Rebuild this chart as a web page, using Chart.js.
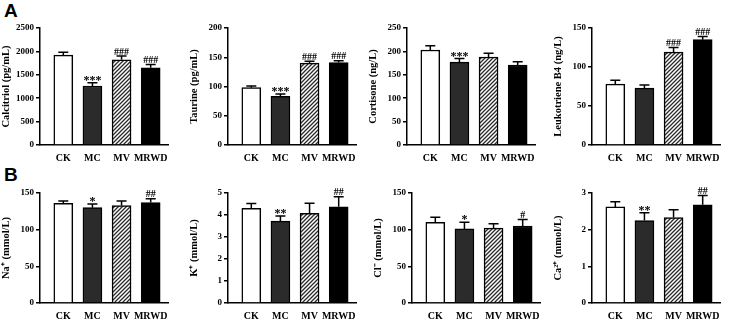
<!DOCTYPE html>
<html>
<head>
<meta charset="utf-8">
<script src="https://cdn.jsdelivr.net/npm/chart.js@4.4.1/dist/chart.umd.min.js"></script>
<style>
  body { margin: 0; background: #fff; }
  #wrap { position: relative; width: 735px; height: 326px; overflow: hidden; }
  canvas { position: absolute; }
  .tag { position: absolute; font: bold 19px "Liberation Sans", Arial, sans-serif; }
</style>
</head>
<body>
<div id="wrap">
  <div class="tag" style="left:4px;top:0px">A</div>
  <div class="tag" style="left:4px;top:164px">B</div>
</div>
<script>
const groups = ['CK', 'MC', 'MV', 'MRWD'];

// row A
const calcitriolMean = [1920, 1260, 1820, 1650];
const calcitriolErr = [60, 70, 80, 70];
const calcitriolSig = ['', '***', '###', '###'];

const taurineMean = [98, 83, 140, 141];
const taurineErr = [3, 4, 3, 3];
const taurineSig = ['', '***', '###', '###'];

const cortisoneMean = [203, 177, 188, 171];
const cortisoneErr = [9, 8, 8, 7];
const cortisoneSig = ['', '***', '', ''];

const ltb4Mean = [78, 73, 119, 135];
const ltb4Err = [5, 4, 6, 4];
const ltb4Sig = ['', '', '###', '###'];

// row B
const naMean = [136, 130, 133, 137];
const naErr = [3, 5, 6, 5];
const naSig = ['', '*', '', '##'];

const kMean = [4.30, 3.72, 4.08, 4.37];
const kErr = [0.22, 0.23, 0.45, 0.46];
const kSig = ['', '**', '', '##'];

const clMean = [110, 101, 102, 105];
const clErr = [7, 9, 6, 9];
const clSig = ['', '*', '', '#'];

const caMean = [2.62, 2.25, 2.33, 2.68];
const caErr = [0.14, 0.21, 0.21, 0.25];
const caSig = ['', '**', '', '##'];

const panels = [
  { mean: calcitriolMean, err: calcitriolErr, sig: calcitriolSig, title: 'Calcitriol (pg/mL)', max: 2500, step: 500, row: 0, axisX: 40 },
  { mean: taurineMean, err: taurineErr, sig: taurineSig, title: 'Taurine (pg/mL)', max: 200, step: 50, row: 0, axisX: 228 },
  { mean: cortisoneMean, err: cortisoneErr, sig: cortisoneSig, title: 'Cortisone (ng/L)', max: 250, step: 50, row: 0, axisX: 407 },
  { mean: ltb4Mean, err: ltb4Err, sig: ltb4Sig, title: 'Leukotriene B4 (ng/L)', max: 150, step: 50, row: 0, axisX: 592 },
  { mean: naMean, err: naErr, sig: naSig, title: 'Na\u207A (mmol/L)', max: 150, step: 50, row: 1, axisX: 40 },
  { mean: kMean, err: kErr, sig: kSig, title: 'K\u207A (mmol/L)', max: 5, step: 1, row: 1, axisX: 228 },
  { mean: clMean, err: clErr, sig: clSig, title: 'Cl\u207B (mmol/L)', max: 150, step: 50, row: 1, axisX: 412 },
  { mean: caMean, err: caErr, sig: caSig, title: 'Ca\u00B2\u207A (mmol/L)', max: 3, step: 1, row: 1, axisX: 592 }
];

const rows = [
  { canvasTop: 0, areaTop: 28, areaBottom: 145 },
  { canvasTop: 165, areaTop: 193, areaBottom: 303 }
];

const serif = '"Liberation Serif", "Times New Roman", serif';

function hatch() {
  let c = document.createElement('canvas');
  c.width = 4; c.height = 4;
  let g = c.getContext('2d');
  g.fillStyle = '#fff';
  g.fillRect(0, 0, 4, 4);
  g.strokeStyle = '#2a2a2a';
  g.lineWidth = 1.3;
  g.beginPath();
  g.moveTo(-1, 5); g.lineTo(5, -1);
  g.moveTo(-1, 1); g.lineTo(1, -1);
  g.moveTo(3, 5); g.lineTo(5, 3);
  g.stroke();
  return g.createPattern(c, 'repeat');
}

// error bars + significance marks
const errorBars = {
  id: 'errorBars',
  afterDatasetsDraw(chart) {
    let p = chart.config.options.plugins.errorBars;
    let yScale = chart.scales.y;
    let ctx = chart.ctx;
    let bars = chart.getDatasetMeta(0).data;
    ctx.save();
    ctx.strokeStyle = '#000';
    ctx.lineWidth = 1.5;
    bars.forEach((bar, i) => {
      let top = yScale.getPixelForValue(p.mean[i] + p.err[i]);
      ctx.beginPath();
      ctx.moveTo(bar.x, bar.y);
      ctx.lineTo(bar.x, top);
      ctx.moveTo(bar.x - 5, top);
      ctx.lineTo(bar.x + 5, top);
      ctx.stroke();
      if (p.sig[i]) {
        let star = p.sig[i][0] === '*';
        ctx.fillStyle = '#000';
        ctx.font = 'bold ' + (star ? 12 : 10) + 'px ' + serif;
        ctx.textAlign = 'center';
        ctx.textBaseline = 'bottom';
        ctx.fillText(p.sig[i], bar.x, top + (star ? 4 : 1));
      }
    });
    ctx.restore();
  }
};

const wrap = document.getElementById('wrap');
const yw = 40, areaW = 131, xh = 22;

panels.forEach(p => {
  let r = rows[p.row];
  let cv = document.createElement('canvas');
  let w = yw + areaW + 4;
  let h = r.areaBottom - r.canvasTop + xh;
  cv.width = w; cv.height = h;
  cv.style.left = (p.axisX - yw) + 'px';
  cv.style.top = r.canvasTop + 'px';
  wrap.appendChild(cv);

  new Chart(cv, {
    type: 'bar',
    data: {
      datasets: [{
        data: p.mean.map((v, i) => ({ x: i, y: v })),
        backgroundColor: ['#ffffff', '#2b2b2b', hatch(), '#000000'],
        borderColor: '#000',
        borderWidth: 1.5,
        borderSkipped: 'bottom',
        barThickness: 19
      }]
    },
    options: {
      responsive: false,
      animation: false,
      layout: { padding: { top: r.areaTop - r.canvasTop, right: 4, left: 0, bottom: 0 } },
      plugins: {
        legend: { display: false },
        tooltip: { enabled: false },
        errorBars: { mean: p.mean, err: p.err, sig: p.sig }
      },
      scales: {
        x: {
          type: 'linear',
          min: -0.8,
          max: 3.6,
          offset: false,
          grid: { display: false, offset: false, drawTicks: false, tickLength: 0 },
          border: { display: true, color: '#000', width: 1.5 },
          afterBuildTicks: s => { s.ticks = groups.map((g, i) => ({ value: i })); },
          afterFit: s => { s.height = xh; },
          ticks: {
            autoSkip: false,
            maxRotation: 0,
            padding: 7,
            color: '#000',
            font: { family: serif, size: 10, weight: 'bold' },
            callback: v => groups[v]
          }
        },
        y: {
          min: 0,
          max: p.max,
          afterFit: s => { s.width = yw; },
          grid: { drawOnChartArea: false, drawTicks: true, tickLength: 4, color: '#000', lineWidth: 1.5 },
          border: { display: true, color: '#000', width: 1.5 },
          ticks: {
            stepSize: p.step,
            padding: 2,
            color: '#000',
            font: { family: serif, size: 9, weight: 'bold' },
            callback: v => String(v)
          },
          title: {
            display: true,
            text: p.title,
            color: '#000',
            padding: 0,
            font: { family: serif, size: 10.5, weight: 'bold' }
          }
        }
      }
    },
    plugins: [errorBars]
  });
});
</script>
</body>
</html>
